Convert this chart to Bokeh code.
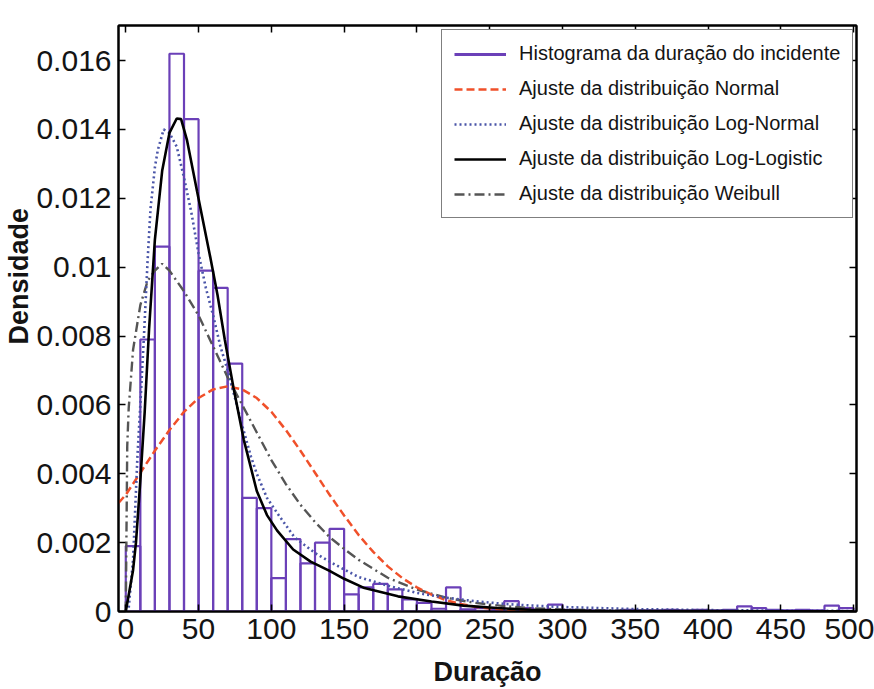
from bokeh.plotting import figure
from bokeh.models import (Range1d, LinearAxis, FixedTicker, CustomJSTickFormatter,
                          Legend, LegendItem, ColumnDataSource, Title)
from bokeh.embed import file_html
from bokeh.resources import INLINE

# ---------------- data ----------------
bin_left = [0, 10, 20, 30, 40, 50, 60, 70, 80, 90,
            100, 110, 120, 130, 140, 150, 160, 170, 180, 190,
            200, 210, 220, 230, 240, 250, 260, 270, 280, 290,
            300, 310, 320, 330, 340, 350, 360, 370, 380, 390,
            400, 410, 420, 430, 440, 450, 460, 470, 480, 490]
bin_right = [b + 10 for b in bin_left]
hist_density = [0.0019, 0.0079, 0.0106, 0.0162, 0.0143, 0.0099, 0.0094, 0.0072, 0.0033, 0.0030,
                0.00097, 0.0021, 0.0014, 0.0020, 0.0024, 0.0005, 0.0007, 0.0008, 0.00064, 0.00035,
                0.00025, 0.00008, 0.0007, 0.00006, 0.0001, 0.00005, 0.0003, 0.0001, 0.00005, 0.0002,
                0.00005, 0.00003, 0.00003, 0.00002, 0.00005, 0.00003, 0.00003, 0.00005, 0.00003, 0.00005,
                0.00003, 0.00005, 0.00015, 0.0001, 0.00005, 0.00003, 0.00005, 0.00003, 0.00017, 0.0001]

normal_x = [-5, 0, 10, 20, 30, 40, 50, 60, 70, 80, 90, 100, 110, 120, 130, 140, 150,
            160, 170, 180, 190, 200, 210, 220, 230, 240, 250, 260, 280, 300, 350, 500]
normal_y = [0.00315, 0.00339, 0.00403, 0.00467, 0.00527, 0.0058, 0.0062, 0.00645, 0.00654,
            0.00645, 0.0062, 0.0058, 0.00527, 0.00467, 0.00403, 0.00339, 0.00279,
            0.00222, 0.00173, 0.00131, 0.00097, 0.0007, 0.00049, 0.00033, 0.00022,
            0.00014, 0.00009, 0.000055, 0.00002, 0.000006, 0.0, 0.0]

lognormal_x = [0, 2, 5, 8, 10, 12.6, 15, 17, 20, 22, 26, 30, 35, 40, 45, 50, 55, 60, 65, 70,
               75, 80, 86, 90, 97, 105, 116, 130, 140, 150, 160, 180, 200, 220, 240, 260,
               280, 300, 350, 400, 450, 500]
lognormal_y = [0.0, 0.0001, 0.0015, 0.0045, 0.0060, 0.0081, 0.0102, 0.0117, 0.0129, 0.0134,
               0.0140, 0.0139, 0.0135, 0.0126, 0.0116, 0.0104, 0.0094, 0.0086, 0.0077, 0.0070,
               0.0062, 0.0054, 0.0045, 0.0040, 0.0033, 0.0028, 0.00215, 0.0017, 0.00145,
               0.00122, 0.0010, 0.00075, 0.00054, 0.0004, 0.0003, 0.00022, 0.00017, 0.00013,
               0.00007, 0.00004, 0.000025, 0.000015]

loglogistic_x = [0, 5, 7, 10, 13, 16, 20, 25, 30, 35, 38, 42, 49, 58, 63, 68, 74, 81, 90, 97,
                 104, 115, 127, 140, 150, 164, 187, 210, 232, 255, 278, 320, 400, 500]
loglogistic_y = [0.0, 0.0012, 0.002, 0.0038, 0.0058, 0.0082, 0.0108, 0.0128, 0.0139, 0.01432,
                 0.0143, 0.0137, 0.0122, 0.0103, 0.0092, 0.0079, 0.0065, 0.0050, 0.0035, 0.0028,
                 0.00235, 0.0018, 0.00145, 0.00118, 0.00095, 0.00068, 0.00044, 0.00029,
                 0.00017, 0.0001, 0.00005, 0.00002, 0.00001, 0.000005]

weibull_x = [0, 1, 2, 5, 10, 15, 20, 25, 30, 40, 50, 60, 70, 80, 90, 100, 110, 120, 130,
             140, 150, 160, 180, 200, 220, 240, 260, 280, 300, 350, 400, 500]
weibull_y = [0.0, 0.0048, 0.0059, 0.0076, 0.0089, 0.0096, 0.0099, 0.0101, 0.0099, 0.0093,
             0.0086, 0.0077, 0.0068, 0.0060, 0.0052, 0.0044, 0.0037, 0.0031, 0.0026,
             0.00216, 0.00182, 0.0015, 0.00098, 0.00064, 0.0004, 0.00025, 0.000155,
             0.000094, 0.000057, 0.000015, 0.000003, 0.0]

x_ticks = [0, 50, 100, 150, 200, 250, 300, 350, 400, 450, 500]
y_ticks = [0, 0.002, 0.004, 0.006, 0.008, 0.01, 0.012, 0.014, 0.016]

x_title = "Duração"
y_title = "Densidade"
legend_labels = ["Histograma da duração do incidente",
                 "Ajuste da distribuição Normal",
                 "Ajuste da distribuição Log-Normal",
                 "Ajuste da distribuição Log-Logistic",
                 "Ajuste da distribuição Weibull"]

# ---------------- figure ----------------
FONT = "Liberation Sans"
TXT = "#141414"
PURPLE = "#6b40b8"

p = figure(width=874, height=689, output_backend="svg", toolbar_location=None,
           x_range=Range1d(-5, 502), y_range=Range1d(0, 0.01702),
           min_border_left=118, min_border_right=18, min_border_top=25, min_border_bottom=77,
           background_fill_color="white", border_fill_color="white")
p.xgrid.visible = False
p.ygrid.visible = False
p.outline_line_color = "black"
p.outline_line_width = 2

hist_src = ColumnDataSource(dict(left=bin_left, right=bin_right, top=hist_density,
                                 bottom=[0] * len(bin_left)))
hist = p.quad(left="left", right="right", top="top", bottom="bottom", source=hist_src,
              fill_color="white", fill_alpha=0.0, line_color=PURPLE, line_width=2.2)
# legend key for the histogram (drawn only in the legend)
hist_key = p.line(x=bin_left, y=hist_density, line_color=PURPLE, line_width=3, visible=False)

r_weib = p.line(weibull_x, weibull_y, line_color="#555555", line_width=2.4,
                line_dash="10 4 2 4")
r_norm = p.line(normal_x, normal_y, line_color="#f0502a", line_width=2.5, line_dash="8 4")
r_logn = p.line(lognormal_x, lognormal_y, line_color="#4a55a8", line_width=2.6,
                line_dash="2 3")
r_logl = p.line(loglogistic_x, loglogistic_y, line_color="black", line_width=2.6)


def style_axis(ax, ticks, show):
    ax.ticker = FixedTicker(ticks=ticks)
    ax.major_tick_in = 7
    ax.major_tick_out = 0
    ax.minor_tick_line_color = None
    ax.major_tick_line_width = 1.5
    ax.major_tick_line_color = "black"
    ax.axis_line_color = "black"
    ax.axis_line_width = 2
    if show:
        ax.major_label_text_font = FONT
        ax.major_label_text_font_size = "30px"
        ax.major_label_text_color = TXT
        ax.major_label_standoff = 7
    else:
        ax.major_label_text_font_size = "0px"
        ax.major_label_standoff = 0
        ax.formatter = CustomJSTickFormatter(code="return '';")


xb = p.below[0]
yl = p.left[0]
style_axis(xb, x_ticks, True)
style_axis(yl, y_ticks, True)
yl.formatter = CustomJSTickFormatter(
    code="if (Math.abs(tick) < 1e-12) { return '0'; } return String(parseFloat(tick.toFixed(3)));")
xb.axis_label = x_title
xb.axis_label_standoff = 15
xb.axis_label_text_font = FONT
xb.axis_label_text_font_size = "27px"
xb.axis_label_text_font_style = "bold"
xb.axis_label_text_color = TXT

xt = LinearAxis()
style_axis(xt, x_ticks, False)
p.add_layout(xt, "above")
yr = LinearAxis()
style_axis(yr, y_ticks, False)
p.add_layout(yr, "right")

# y-axis title, placed a little above the middle as in the reference
p.add_layout(Title(text=y_title, align="left", offset=267, standoff=0,
                   text_font=FONT, text_font_size="27px", text_font_style="bold",
                   text_color=TXT), "left")

legend = Legend(items=[
    LegendItem(label=legend_labels[0], renderers=[hist_key]),
    LegendItem(label=legend_labels[1], renderers=[r_norm]),
    LegendItem(label=legend_labels[2], renderers=[r_logn]),
    LegendItem(label=legend_labels[3], renderers=[r_logl]),
    LegendItem(label=legend_labels[4], renderers=[r_weib]),
], location=(323, 393), margin=0, padding=12, spacing=12, glyph_width=52, glyph_height=20,
    label_standoff=13, label_text_font=FONT, label_text_font_size="20px",
    label_text_color=TXT, border_line_color="black", border_line_width=1.5,
    background_fill_color="white", background_fill_alpha=1.0)
p.add_layout(legend)

open("out.html", "w").write(file_html(p, INLINE))
